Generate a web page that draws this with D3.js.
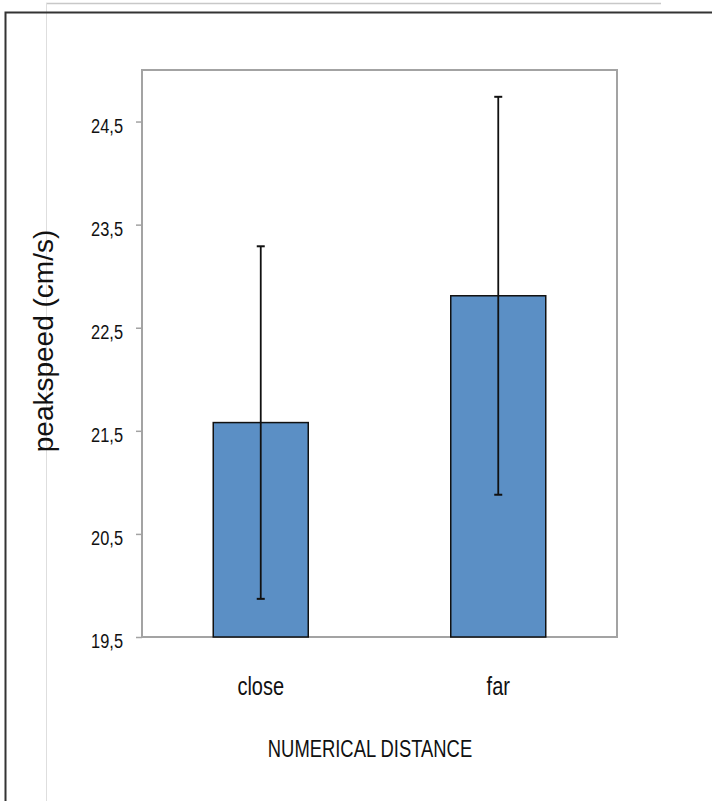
<!DOCTYPE html>
<html>
<head>
<meta charset="utf-8">
<script src="https://cdn.jsdelivr.net/npm/d3@7"></script>
<style>
  body { margin: 0; background: #fff; }
  svg { display: block; }
</style>
</head>
<body>
<div id="wrapper"></div>
<script>
const categories = ["close", "far"];
const means = [21.58, 22.81];
const errors = [1.71, 1.93];
const yTicks = [19.5, 20.5, 21.5, 22.5, 23.5, 24.5];
const yDomain = [19.5, 25];

const data = categories.map((c, i) => ({ cat: c, mean: means[i], err: errors[i] }));

const dimension = {
    width: 712,
    height: 801,
    margin: { top: 70, left: 142, bottom: 164, right: 95 }
};
dimension.boundedWidth = dimension.width - dimension.margin.left - dimension.margin.right;
dimension.boundedHeight = dimension.height - dimension.margin.top - dimension.margin.bottom;

// the original uses a narrow sans; squeeze Liberation Sans horizontally
const narrow = 0.8;
const fontFamily = "'Liberation Sans', Arial, sans-serif";

const svg = d3.select("#wrapper").append("svg")
    .attr("width", dimension.width)
    .attr("height", dimension.height);

// page decoration lines
svg.append("line").attr("x1", 46).attr("x2", 661).attr("y1", 3.5).attr("y2", 3.5)
    .attr("stroke", "#c8c8c8").attr("stroke-width", 1.5);
svg.append("line").attr("x1", 46.5).attr("x2", 46.5).attr("y1", 3).attr("y2", 801)
    .attr("stroke", "#dedede").attr("stroke-width", 1);
svg.append("path").attr("d", "M712,12.5 H5.5 V801")
    .attr("fill", "none").attr("stroke", "#333").attr("stroke-width", 2);

const bounded = svg.append("g")
    .attr("transform", `translate(${dimension.margin.left},${dimension.margin.top})`);

const yScaler = d3.scaleLinear()
    .domain(yDomain)
    .range([dimension.boundedHeight, 0]);

const xScaler = d3.scaleBand()
    .domain(categories)
    .range([0, dimension.boundedWidth])
    .paddingInner(0.6)
    .paddingOuter(0.3);

// frame
bounded.append("rect")
    .attr("x", 0).attr("y", 0)
    .attr("width", dimension.boundedWidth)
    .attr("height", dimension.boundedHeight)
    .attr("fill", "none")
    .attr("stroke", "#a3a3a3")
    .attr("stroke-width", 2);

const yAxis = d3.axisLeft(yScaler)
    .tickValues(yTicks)
    .tickSize(6)
    .tickFormat(d => d3.format(".1f")(d).replace(".", ","));

const yAxisG = bounded.append("g").call(yAxis);
yAxisG.select(".domain").remove();
yAxisG.selectAll(".tick line").attr("stroke", "#a3a3a3").attr("stroke-width", 1.5);
yAxisG.selectAll(".tick text")
    .attr("x", 0)
    .attr("dy", "0.5em")
    .attr("text-anchor", "end")
    .attr("transform", `translate(-19,0) scale(0.78,1)`)
    .attr("font-family", fontFamily)
    .attr("font-size", 21)
    .attr("fill", "#111");

// bars
bounded.selectAll(".bar")
    .data(data)
    .join("rect")
    .attr("class", "bar")
    .attr("x", d => xScaler(d.cat))
    .attr("y", d => yScaler(d.mean))
    .attr("width", xScaler.bandwidth())
    .attr("height", d => yScaler(yDomain[0]) - yScaler(d.mean))
    .attr("fill", "#5b8fc5")
    .attr("stroke", "#111")
    .attr("stroke-width", 1.5);

// error bars
const errG = bounded.selectAll(".err")
    .data(data)
    .join("g")
    .attr("class", "err")
    .attr("transform", d => `translate(${xScaler(d.cat) + xScaler.bandwidth() / 2},0)`);

errG.append("line")
    .attr("y1", d => yScaler(d.mean + d.err))
    .attr("y2", d => yScaler(d.mean - d.err))
    .attr("stroke", "#111").attr("stroke-width", 1.8);
errG.append("line")
    .attr("x1", -4).attr("x2", 4)
    .attr("y1", d => yScaler(d.mean + d.err))
    .attr("y2", d => yScaler(d.mean + d.err))
    .attr("stroke", "#111").attr("stroke-width", 2);
errG.append("line")
    .attr("x1", -4).attr("x2", 4)
    .attr("y1", d => yScaler(d.mean - d.err))
    .attr("y2", d => yScaler(d.mean - d.err))
    .attr("stroke", "#111").attr("stroke-width", 2);

// category labels
bounded.selectAll(".cat")
    .data(categories)
    .join("text")
    .attr("class", "cat")
    .attr("transform", d => `translate(${xScaler(d) + xScaler.bandwidth() / 2},${695 - dimension.margin.top}) scale(${narrow},1)`)
    .attr("text-anchor", "middle")
    .attr("font-family", fontFamily)
    .attr("font-size", 25)
    .attr("fill", "#111")
    .text(d => d);

// axis titles
svg.append("text")
    .attr("transform", `translate(370,757) scale(${narrow},1)`)
    .attr("text-anchor", "middle")
    .attr("font-family", fontFamily)
    .attr("font-size", 23)
    .attr("fill", "#111")
    .text("NUMERICAL DISTANCE");

svg.append("text")
    .attr("transform", "translate(53,341) rotate(-90)")
    .attr("text-anchor", "middle")
    .attr("font-family", fontFamily)
    .attr("font-size", 28)
    .attr("fill", "#111")
    .text("peakspeed (cm/s)");
</script>
</body>
</html>
